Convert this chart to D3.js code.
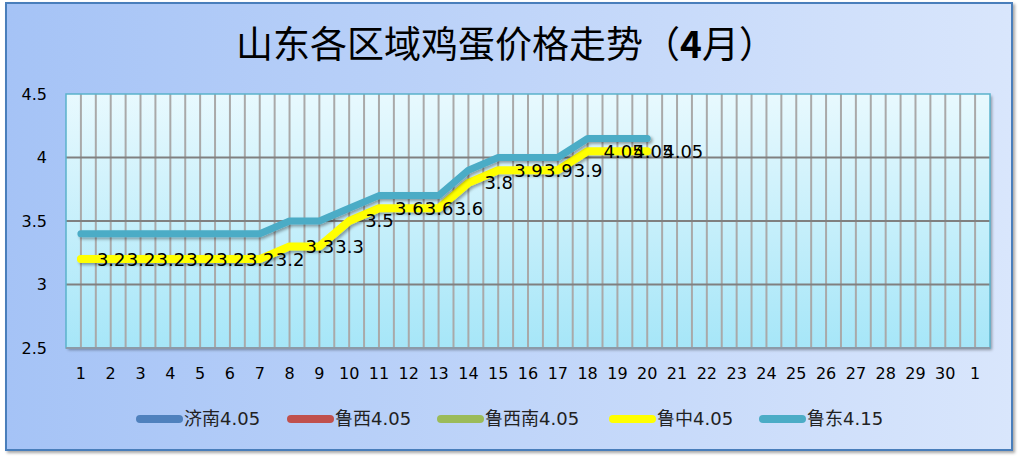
<!DOCTYPE html>
<html><head><meta charset="utf-8">
<script src="https://cdn.jsdelivr.net/npm/d3@7/dist/d3.min.js"></script>
<style>body{margin:0;background:#fff}svg{display:block}</style>
</head><body>
<svg id="c" width="1020" height="460"></svg>
<script>
const dayLabels = ["1","2","3","4","5","6","7","8","9","10","11","12","13","14","15","16","17","18","19","20","21","22","23","24","25","26","27","28","29","30","1"];
const yTicks = [2.5, 3, 3.5, 4, 4.5];
const seriesNames = ["济南4.05","鲁西4.05","鲁西南4.05","鲁中4.05","鲁东4.15"];
const seriesColors = ["#4F81BD","#C0504D","#9BBB59","#FFFF00","#4BACC6"];
const jinan = [];
const luxi = [];
const luxinan = [];
const luzhong = [3.2,3.2,3.2,3.2,3.2,3.2,3.2,3.3,3.3,3.5,3.6,3.6,3.6,3.8,3.9,3.9,3.9,4.05,4.05,4.05];
const ludong = [3.4,3.4,3.4,3.4,3.4,3.4,3.4,3.5,3.5,3.6,3.7,3.7,3.7,3.9,4.0,4.0,4.0,4.15,4.15,4.15];

const svg = d3.select("#c");
const defs = svg.append("defs");
const bg = defs.append("linearGradient").attr("id","bg").attr("x1","0").attr("x2","1").attr("y1","0").attr("y2","0");
bg.append("stop").attr("offset","0").attr("stop-color","#A5C3F6");
bg.append("stop").attr("offset","1").attr("stop-color","#D9E6FC");
const pg = defs.append("linearGradient").attr("id","pg").attr("x1","0").attr("x2","0").attr("y1","0").attr("y2","1");
pg.append("stop").attr("offset","0").attr("stop-color","#E8F9FE");
pg.append("stop").attr("offset","1").attr("stop-color","#A6E6F8");
const sh = defs.append("filter").attr("id","sh").attr("x","-5%").attr("y","-5%").attr("width","110%").attr("height","115%");
sh.append("feDropShadow").attr("dx",2).attr("dy",2).attr("stdDeviation",1.5).attr("flood-color","#000").attr("flood-opacity",0.35);

// outer chart area
svg.append("rect").attr("x",6).attr("y",3).attr("width",1006).attr("height",447)
  .attr("fill","url(#bg)").attr("stroke","#4A7EBB").attr("stroke-width",2).attr("filter","url(#sh)");

// title
const title = svg.append("text").attr("x",506).attr("y",58).attr("text-anchor","middle")
  .attr("font-family","'Noto Sans CJK SC', sans-serif").attr("font-size",37).attr("fill","#000");
title.append("tspan").text("山东各区域鸡蛋价格走势（");
title.append("tspan").attr("font-weight","bold").text("4");
title.append("tspan").text("月）");

const L = 66, R = 990, T = 94, B = 348;
const x = d3.scaleBand().domain(d3.range(dayLabels.length)).range([L, R]);
const y = d3.scaleLinear().domain([2.5, 4.5]).range([B, T]);
const cx = i => x(i) + x.bandwidth()/2;

// plot area
svg.append("rect").attr("x",L).attr("y",T).attr("width",R-L).attr("height",B-T)
  .attr("fill","url(#pg)").attr("filter","url(#sh)");

// vertical gridlines at band centers and boundaries
const vx = [];
dayLabels.forEach((d,i)=>{ if(i>0) vx.push(x(i)); vx.push(cx(i)); });
svg.append("g").selectAll("line").data(vx).join("line")
  .attr("x1",d=>d).attr("x2",d=>d).attr("y1",T).attr("y2",B)
  .attr("stroke","#A9A9A9").attr("stroke-width",2);
// horizontal gridlines
svg.append("g").selectAll("line").data(yTicks.filter(v=>v>2.5 && v<4.5)).join("line")
  .attr("x1",L).attr("x2",R).attr("y1",d=>y(d)).attr("y2",d=>y(d))
  .attr("stroke","#808080").attr("stroke-width",2);
svg.append("rect").attr("x",L).attr("y",T).attr("width",R-L).attr("height",B-T)
  .attr("fill","none").attr("stroke","#5BB3CC").attr("stroke-width",1.5);
svg.append("line").attr("x1",L).attr("x2",R).attr("y1",B).attr("y2",B).attr("stroke","#8C9AA8").attr("stroke-width",2);

// axes
const yAxis = svg.append("g").attr("transform",`translate(${L},0)`)
  .call(d3.axisLeft(y).tickValues(yTicks).tickSize(0).tickPadding(19).tickFormat(d3.format("")));
yAxis.select(".domain").remove();
yAxis.selectAll("text").attr("font-family","'DejaVu Sans', sans-serif").attr("font-size",16).attr("fill","#000");

const xAxis = svg.append("g").attr("transform",`translate(0,${B})`)
  .call(d3.axisBottom(x).tickSize(0).tickPadding(20).tickFormat(i=>dayLabels[i]));
xAxis.select(".domain").remove();
xAxis.selectAll("text").attr("font-family","'DejaVu Sans', sans-serif").attr("font-size",16).attr("fill","#000");

// lines
const line = d3.line().x((d,i)=>cx(i)).y(d=>y(d));
const allSeries = [jinan, luxi, luxinan, luzhong, ludong];
const widths = [7,7,7,8,7];
allSeries.forEach((s,k)=>{
  if(!s.length) return;
  svg.append("path").datum(s).attr("d",line).attr("fill","none")
    .attr("stroke",seriesColors[k]).attr("stroke-width",widths[k])
    .attr("stroke-linecap","round").attr("stroke-linejoin","round")
    .attr("filter","url(#sh)");
});

// data labels for 鲁中
svg.append("g").selectAll("text").data(luzhong).join("text")
  .attr("x",(d,i)=>cx(i)+16).attr("y",d=>y(d)).attr("dy","0.36em")
  .attr("font-family","'DejaVu Sans', sans-serif").attr("font-size",18).attr("fill","#000")
  .text(d=>d);

// legend
const legX = [137, 288, 438, 610, 760];
const lg = svg.append("g");
seriesNames.forEach((n,k)=>{
  lg.append("line").attr("x1",legX[k]+3).attr("x2",legX[k]+42).attr("y1",419).attr("y2",419)
    .attr("stroke",seriesColors[k]).attr("stroke-width",8).attr("stroke-linecap","round");
  lg.append("text").attr("x",legX[k]+47).attr("y",419).attr("dy","0.36em")
    .attr("font-family","'DejaVu Sans','Noto Sans CJK SC', sans-serif").attr("font-size",18).attr("fill","#222").text(n);
});
</script>
</body></html>
